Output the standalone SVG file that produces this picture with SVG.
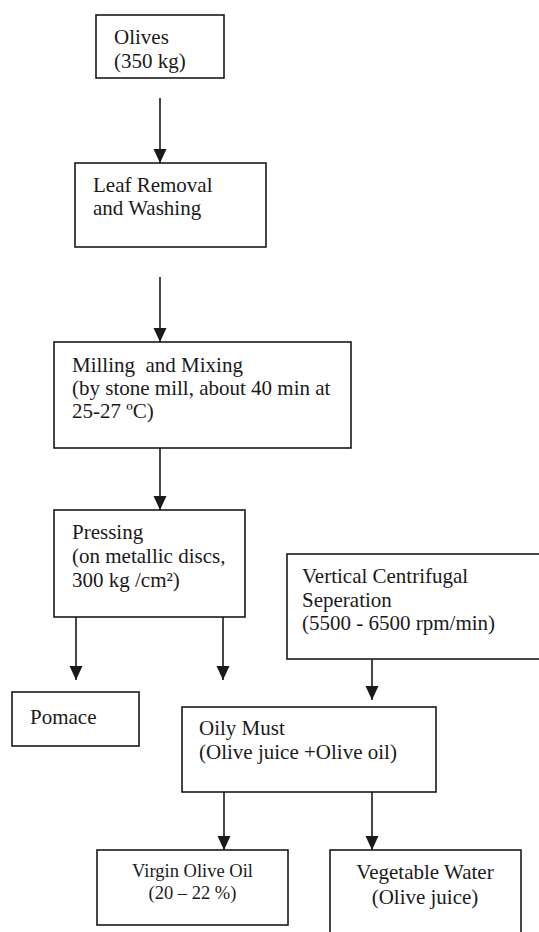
<svg xmlns="http://www.w3.org/2000/svg" width="539" height="932" viewBox="0 0 539 932">
<style>
.box{fill:#fff;stroke:#1a1a1a;stroke-width:1.6}
.t{font-family:"Liberation Serif","Times New Roman",serif;font-size:21px;fill:#1a1a1a}
.s{font-size:18.5px}
.c line{stroke:#1a1a1a;stroke-width:1.6;marker-end:url(#ah)}
</style>
<defs>
<marker id="ah" markerUnits="userSpaceOnUse" markerWidth="14" markerHeight="14" refX="14" refY="6.5" orient="auto">
<path d="M0,0 L14,6.5 L0,13 z" fill="#1a1a1a"/>
</marker>
</defs>
<rect width="539" height="932" fill="#fff"/>
<g id="connectors" class="c">
<line x1="160" y1="98" x2="160" y2="163"/>
<line x1="160" y1="277" x2="160" y2="342"/>
<line x1="160" y1="448" x2="160" y2="510"/>
<line x1="76" y1="617" x2="76" y2="680"/>
<line x1="223" y1="617" x2="223" y2="680"/>
<line x1="372" y1="659" x2="372" y2="700"/>
<line x1="224" y1="792" x2="224" y2="850"/>
<line x1="372" y1="792" x2="372" y2="850"/>
</g>
<g id="olives">
<rect class="box" x="96" y="15" width="128" height="63"/>
<text class="t" x="114" y="44">Olives</text>
<text class="t" x="114" y="68">(350 kg)</text>
</g>
<g id="leaf">
<rect class="box" x="75" y="163" width="191" height="84"/>
<text class="t" x="93" y="192">Leaf Removal</text>
<text class="t" x="93" y="215">and Washing</text>
</g>
<g id="milling">
<rect class="box" x="54" y="342" width="297" height="106"/>
<text class="t" x="72" y="372" xml:space="preserve">Milling  and Mixing</text>
<text class="t" x="72" y="395">(by stone mill, about 40 min at</text>
<text class="t" x="72" y="418">25-27 ºC)</text>
</g>
<g id="pressing">
<rect class="box" x="54" y="510" width="191" height="107"/>
<text class="t" x="72" y="539">Pressing</text>
<text class="t" x="72" y="563">(on metallic discs,</text>
<text class="t" x="72" y="587">300 kg /cm²)</text>
</g>
<g id="centrifugal">
<rect class="box" x="287" y="554" width="255" height="105"/>
<text class="t" x="302" y="583">Vertical Centrifugal</text>
<text class="t" x="302" y="607">Seperation</text>
<text class="t" x="302" y="630">(5500 - 6500 rpm/min)</text>
</g>
<g id="pomace">
<rect class="box" x="12" y="692" width="127" height="54"/>
<text class="t" x="30" y="724">Pomace</text>
</g>
<g id="oily-must">
<rect class="box" x="182" y="707" width="254" height="85"/>
<text class="t" x="199" y="735">Oily Must</text>
<text class="t" x="199" y="759">(Olive juice +Olive oil)</text>
</g>
<g id="virgin-oil">
<rect class="box" x="97" y="850" width="191" height="75"/>
<text class="t s" x="192.5" y="877" text-anchor="middle">Virgin Olive Oil</text>
<text class="t s" x="192.5" y="899" text-anchor="middle">(20 – 22 %)</text>
</g>
<g id="vegetable-water">
<rect class="box" x="330" y="850" width="191" height="90"/>
<text class="t" x="425" y="879" text-anchor="middle">Vegetable Water</text>
<text class="t" x="425" y="904" text-anchor="middle">(Olive juice)</text>
</g>
</svg>
